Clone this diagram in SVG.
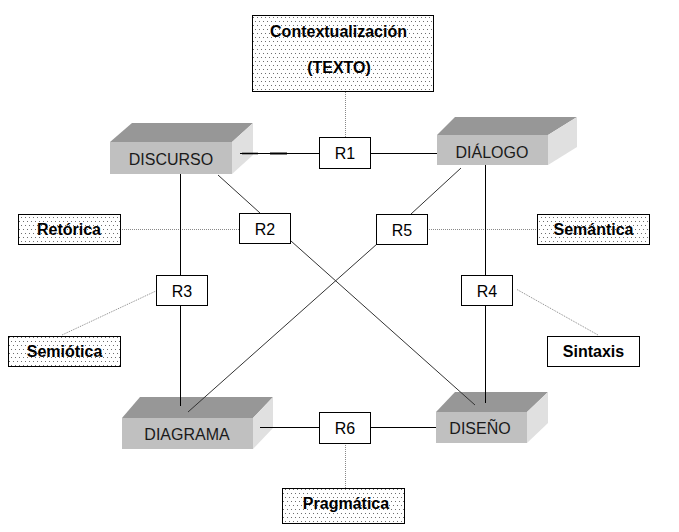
<svg xmlns="http://www.w3.org/2000/svg" width="679" height="532" viewBox="0 0 679 532">
<defs>
<pattern id="dots" width="4" height="8" patternUnits="userSpaceOnUse">
<rect width="4" height="8" fill="#fff"/>
<rect x="1" y="1" width="1" height="1" fill="#6e6e6e"/>
<rect x="3" y="5" width="1" height="1" fill="#6e6e6e"/>
</pattern>
</defs>
<style>
.front{fill:#c0c0c0}
.top{fill:#979797}
.side{fill:#e0e0e0}
.bt{font-family:"Liberation Sans",Arial,sans-serif;font-size:16px;fill:#1a1a1a;text-anchor:middle}
.lab{font-family:"Liberation Sans",Arial,sans-serif;font-size:16px;font-weight:bold;fill:#000;text-anchor:middle}
.rb{fill:#fff;stroke:#000;stroke-width:1}
.dotbox{fill:url(#dots);stroke:#000;stroke-width:1}
.rt{font-family:"Liberation Sans",Arial,sans-serif;font-size:16px;fill:#000;text-anchor:middle}
.solid{stroke:#000;stroke-width:1;fill:none}
.diag{stroke:#333;stroke-width:1;fill:none}
.dot{stroke:#888;stroke-width:1;stroke-dasharray:1 1;fill:none}
</style>
<rect width="679" height="532" fill="#fff"/>

<g id="n-discurso">
<polygon class="top" points="110,142 132,123 253,123 232,142"/>
<polygon class="side" points="232,142 253,123 253,155 232,174"/>
<rect class="front" x="110" y="142" width="122" height="32"/>
<text class="bt" x="171" y="165">DISCURSO</text>
</g>
<g id="n-dialogo">
<polygon class="top" points="437,135 455,117 577,117 548,135"/>
<polygon class="side" points="548,135 577,117 577,147 548,165"/>
<rect class="front" x="437" y="135" width="111" height="30"/>
<text class="bt" x="492" y="158">DIÁLOGO</text>
</g>
<g id="n-diagrama">
<polygon class="top" points="122,418 140,397 273,397 253,418"/>
<polygon class="side" points="253,418 273,397 273,428 253,449"/>
<rect class="front" x="122" y="418" width="131" height="31"/>
<text class="bt" x="187" y="440">DIAGRAMA</text>
</g>
<g id="n-diseno">
<polygon class="top" points="436,412 455,392 548,392 527,412"/>
<polygon class="side" points="527,412 548,392 548,423 527,443"/>
<rect class="front" x="436" y="412" width="91" height="31"/>
<text class="bt" x="480" y="434">DISEÑO</text>
</g>

<g id="connectors">
<line class="dot" x1="345.5" y1="92" x2="345.5" y2="137"/>
<line class="dot" x1="122" y1="229.5" x2="239" y2="229.5"/>
<line class="dot" x1="427" y1="229.5" x2="537" y2="229.5"/>
<line class="dot" x1="157" y1="290.5" x2="62" y2="335"/>
<line class="dot" x1="517" y1="289.5" x2="598" y2="335"/>
<line class="dot" x1="345.5" y1="443" x2="345.5" y2="488"/>
<line class="solid" x1="240" y1="153.5" x2="319" y2="153.5"/>
<line x1="270" y1="153.5" x2="287" y2="153.5" stroke="#000" stroke-width="2"/>
<line x1="242" y1="153.5" x2="258" y2="153.5" stroke="#000" stroke-width="1.6"/>
<line class="solid" x1="371" y1="153.5" x2="437" y2="153.5"/>
<line class="solid" x1="180.5" y1="174" x2="180.5" y2="275"/>
<line class="solid" x1="180.5" y1="305" x2="180.5" y2="406"/>
<line class="solid" x1="485.5" y1="165" x2="485.5" y2="275"/>
<line class="solid" x1="485.5" y1="305" x2="485.5" y2="403"/>
<line class="solid" x1="260" y1="427.5" x2="319" y2="427.5"/>
<line class="solid" x1="370" y1="427.5" x2="436" y2="427.5"/>
<line class="diag" x1="218" y1="175" x2="260" y2="213"/>
<line class="diag" x1="291" y1="241" x2="475" y2="405"/>
<line class="diag" x1="461" y1="168" x2="411" y2="214"/>
<line class="diag" x1="377" y1="244" x2="188" y2="412"/>
</g>

<g id="n-contexto">
<rect class="dotbox" x="252.5" y="15.5" width="181" height="76"/>
<text class="lab" x="338.5" y="36.5">Contextualización</text>
<text class="lab" x="339" y="72.5">(TEXTO)</text>
</g>
<g id="n-r1"><rect class="rb" x="319.5" y="137.5" width="51" height="31"/><text class="rt" x="345" y="159">R1</text></g>
<g id="n-r2"><rect class="rb" x="239.5" y="213.5" width="51" height="30"/><text class="rt" x="265" y="234.5">R2</text></g>
<g id="n-r5"><rect class="rb" x="376.5" y="214.5" width="51" height="30"/><text class="rt" x="402" y="235.5">R5</text></g>
<g id="n-r3"><rect class="rb" x="156.5" y="275.5" width="51" height="30"/><text class="rt" x="182" y="296.5">R3</text></g>
<g id="n-r4"><rect class="rb" x="461.5" y="275.5" width="51" height="30"/><text class="rt" x="487" y="296.5">R4</text></g>
<g id="n-r6"><rect class="rb" x="319.5" y="412.5" width="51" height="31"/><text class="rt" x="345" y="434">R6</text></g>
<g id="n-retorica"><rect class="dotbox" x="18.5" y="214.5" width="102" height="30"/><text class="lab" x="69" y="234.5">Retórica</text></g>
<g id="n-semiotica"><rect class="dotbox" x="8.5" y="336.5" width="112" height="30"/><text class="lab" x="64.5" y="357">Semiótica</text></g>
<g id="n-semantica"><rect class="dotbox" x="537.5" y="214.5" width="112" height="30"/><text class="lab" x="593.5" y="235">Semántica</text></g>
<g id="n-sintaxis"><rect class="rb" x="547.5" y="336.5" width="92" height="30"/><text class="lab" x="593.5" y="357">Sintaxis</text></g>
<g id="n-pragmatica"><rect class="dotbox" x="282.5" y="488.5" width="122" height="35"/><text class="lab" x="346" y="509">Pragmática</text></g>
</svg>
